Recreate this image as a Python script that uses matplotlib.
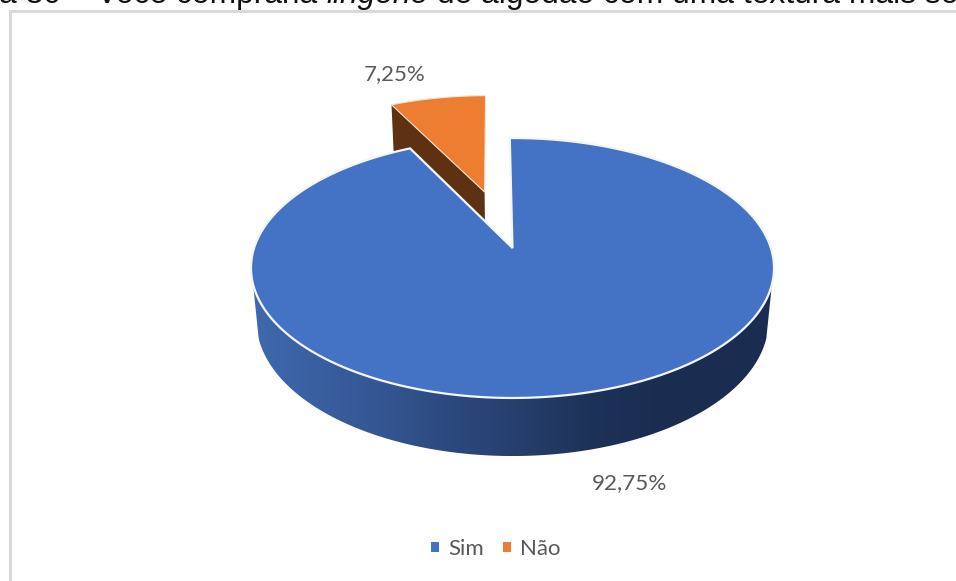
import numpy as np
import matplotlib
matplotlib.use("Agg")
import matplotlib.pyplot as plt
from matplotlib.colors import LinearSegmentedColormap
from matplotlib.patches import Patch, Polygon

categories = ["Sim", "Não"]
values = [92.75, 7.25]
value_labels = ["92,75%", "7,25%"]
colors = ["#4472C4", "#ED7D31"]
title_parts = [("a 30 – Você compraria ", "normal"), ("lingerie", "italic"),
               (" de algodão com uma textura mais so", "normal")]

# perspective of the pie, in pixels
cx, cy = 512.5, 248.0
a, b = 258.4, 126.9
k = 0.1538
depth_w, depth_y = 0.021, 53.5
start_angle = 90.7
explode = 0.487

def project(X, Y, Z=0.0):
    # Z=0 is the top face, Z=1 the bottom face
    w = 1 + k * Y + depth_w * Z
    return cx + a * X / w, cy - (b * Y - depth_y * Z) / w

def rim(a0, a1, Z=0.0, ox=0.0, oy=0.0):
    t = np.radians(np.linspace(a0, a1, 240))
    return np.column_stack(project(np.cos(t) + ox, np.sin(t) + oy, Z))

fig = plt.figure(figsize=(9.56, 5.81), dpi=100)
ax = fig.add_axes([0, 0, 1, 1])
ax.set_xlim(0, 956)
ax.set_ylim(581, 0)
ax.axis("off")

# chart frame
ax.plot([10.5, 10.5, 956], [581, 11, 11], color="#d9d9d9", lw=2.2, solid_joinstyle="miter")

# caption above the frame, cut by the top of the page
title_size = 22.9
x_pos = -1
for part, style in title_parts:
    ax.text(x_pos, 3.2, part, family="Liberation Sans", style=style, fontsize=title_size,
            color="#111111", va="baseline", ha="left")
    # spaces at the ends are not measured, so swap them for "n" and take off the difference
    probe = ax.text(0, 0, part.replace(" ", "n"), family="Liberation Sans", style=style, fontsize=title_size)
    probe_w = probe.get_window_extent(fig.canvas.get_renderer()).width
    probe.remove()
    x_pos += probe_w - part.count(" ") * (title_size * 100 / 72) * (0.556 - 0.278)

sim_span = values[0] / sum(values) * 360
nao_span = values[1] / sum(values) * 360

# exploded slice: cut face first, then its top
mid = np.radians(start_angle + nao_span / 2)
ox, oy = explode * np.cos(mid), explode * np.sin(mid)
nao_arc = rim(start_angle, start_angle + nao_span, 0, ox, oy)
corner = np.radians(start_angle + nao_span)
c_top = project(np.cos(corner) + ox, np.sin(corner) + oy)
c_bot = project(np.cos(corner) + ox, np.sin(corner) + oy, 1)
apex_top = project(ox, oy)
apex_bot = project(ox, oy, 1)
ax.add_patch(Polygon([c_top, apex_top, apex_bot, c_bot], closed=True, fc="#5E3113", ec="none"))
ax.add_patch(Polygon(np.vstack([[apex_top], nao_arc]), closed=True, fc=colors[1],
                     ec="#f6e4d8", lw=0.8))

# front wall with its left-to-right shading
wall_cmap = LinearSegmentedColormap.from_list("wall", [
    (0.0, "#3F69AF"), (0.27, "#33548F"), (0.36, "#2D4B81"),
    (0.52, "#253E6C"), (0.65, "#1D3258"), (0.80, "#1A2D50"), (1.0, "#1A2D50")])
wall_outline = np.vstack([rim(196, 344), rim(344, 196, 1)])
wall_patch = Polygon(wall_outline, closed=True, fc="none", ec="none", transform=ax.transData)
ax.add_patch(wall_patch)
img = ax.imshow(np.linspace(0, 1, 256)[None, :], cmap=wall_cmap, extent=(251, 774, 470, 260),
                aspect="auto", interpolation="bilinear", zorder=1.5)
img.set_clip_path(wall_patch)
ax.set_xlim(0, 956)
ax.set_ylim(581, 0)

# big slice top, clockwise from the start angle
sim_arc = rim(start_angle, start_angle - sim_span)
ax.add_patch(Polygon(np.vstack([[project(0, 0)], sim_arc]), closed=True, fc=colors[0],
                     ec="#f4f6fa", lw=1.6, zorder=2))

ax.text(630, 483, value_labels[0], family="Lato", fontsize=16.2, color="#595959",
        ha="center", va="center", zorder=3)
ax.text(394.5, 74, value_labels[1], family="Lato", fontsize=16, color="#595959",
        ha="center", va="center", zorder=3)

handles = [Patch(fc=c, ec="none", label=n) for c, n in zip(colors, categories)]
ax.legend(handles=handles, loc="center", bbox_to_anchor=(496 / 956, 1 - 549 / 581), ncol=2,
          frameon=False, prop={"family": "Lato", "size": 16}, labelcolor="#595959",
          handlelength=0.36, handleheight=0.36, handletextpad=0.42, columnspacing=0.85)

fig.savefig("out.png", dpi=100)
